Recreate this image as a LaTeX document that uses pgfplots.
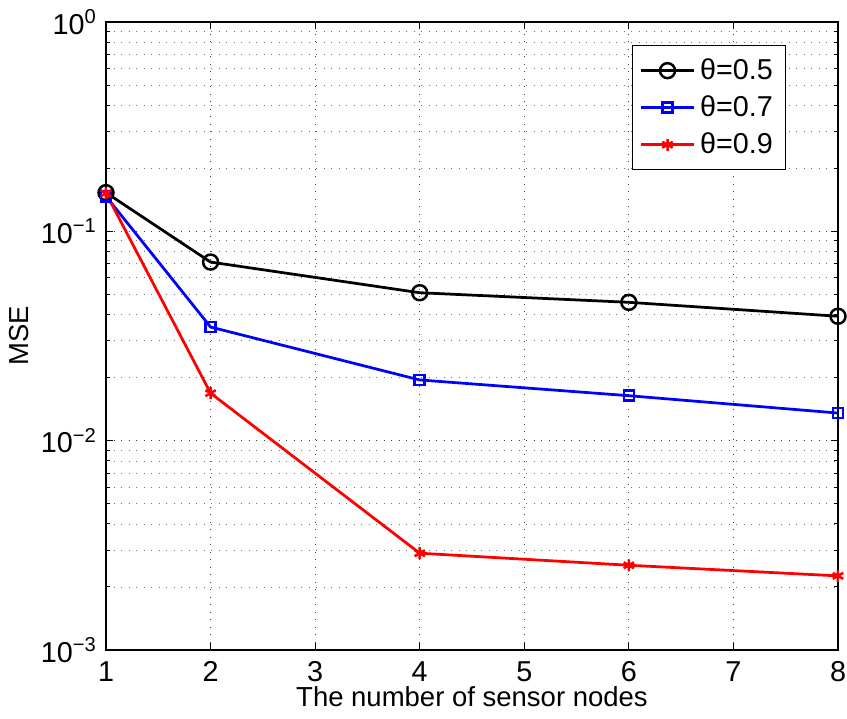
\documentclass[border=0pt]{standalone}
\usepackage{fontspec}
\setmainfont{Liberation Sans}
\usepackage{pgfplots}
\pgfplotsset{compat=1.18}

\pgfplotstableread{
x    a       b        c
1    0.153   0.147    0.152
2    0.0713  0.0349   0.01686
4    0.0509  0.0195   0.00290
6    0.0458  0.0164   0.00254
8    0.0393  0.01355  0.00226
}\msedata

\begin{document}
\begin{tikzpicture}[x=0.4pt,y=0.4pt]
\begin{semilogyaxis}[
  scale only axis,
  at={(0,0)}, anchor=south west,
  width=292.8pt, height=251.2pt,
  xmin=1, xmax=8, ymin=1e-3, ymax=1,
  xtick={1,2,...,8},
  ytick={1e-3,1e-2,1e-1,1},
  yticklabels={10\textsuperscript{−3},10\textsuperscript{−2},10\textsuperscript{−1},10\textsuperscript{0}},
  /pgf/number format/assume math mode=true,
  tick align=inside,
  major tick length=2.8pt, minor tick length=1.6pt,
  tick style={black, line width=0.4pt},
  grid=both,
  major grid style={black!75, line width=0.35pt, dash pattern=on 0.4pt off 2.6pt},
  minor grid style={black!55, line width=0.35pt, dash pattern=on 0.4pt off 2.6pt},
  axis line style={black, line width=0.5pt},
  tick label style={font=\fontsize{11.5}{13}\selectfont},
  label style={font=\fontsize{11}{13}\selectfont},
  xlabel={The number of sensor nodes},
  ylabel={MSE},
  xlabel style={yshift=5pt},
  ylabel style={yshift=-2pt},
  xticklabel style={yshift=-1pt},
  legend style={at={(0.929,0.963)}, anchor=north east, draw=black, line width=0.5pt,
    font=\fontsize{11.5}{13}\selectfont, row sep=1pt, inner sep=3pt,
    cells={anchor=west}},
  legend image code/.code={
    \draw[#1] (0pt,0pt) -- (21pt,0pt);
    \draw[#1, only marks] plot coordinates {(10.5pt,0pt)};
  },
  clip=false,
]
\addplot[black, line width=1.1pt, mark=o, mark size=3pt, mark options={line width=1pt}]
  table[x=x, y=a] {\msedata};
\addlegendentry{θ=0.5}
\addplot[blue, line width=1.1pt, mark=square, mark size=2pt, mark options={line width=1pt}]
  table[x=x, y=b] {\msedata};
\addlegendentry{θ=0.7}
\addplot[red, line width=1.1pt, mark=asterisk, mark size=2.4pt, mark options={line width=1pt}]
  table[x=x, y=c] {\msedata};
\addlegendentry{θ=0.9}
\end{semilogyaxis}
\pgfresetboundingbox
\path[use as bounding box] (-106,-69) rectangle (741,650);
\end{tikzpicture}
\end{document}
